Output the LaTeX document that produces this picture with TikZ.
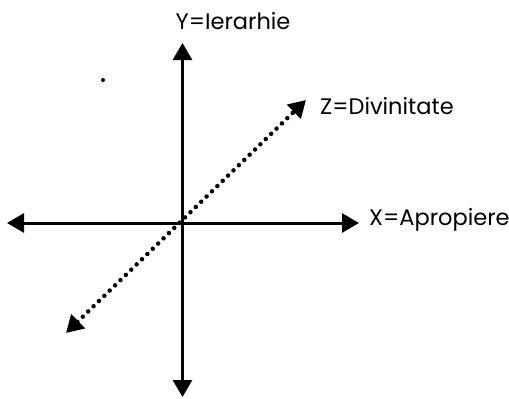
\documentclass[tikz,border=0pt]{standalone}
\usepackage{fontspec}
\setmainfont{Poppins}
\usetikzlibrary{arrows.meta}
\begin{document}
\begin{tikzpicture}[x=1pt,y=-1pt,
  axis/.style={line width=3pt,-{Triangle[length=17pt,width=19pt]}},
  dotaxis/.style={line width=4.5pt,line cap=round,dash pattern=on 0pt off 7.5pt,
    {Triangle[length=17pt,width=19pt,line cap=butt]}-{Triangle[length=17pt,width=19pt,line cap=butt]}},
  lbl/.style={inner sep=0pt,font=\fontsize{22.5}{24}\selectfont}]
\useasboundingbox (0,0) rectangle (509,399);
\coordinate (O) at (182.5,223);
\coordinate (Xl) at (7,223);
\coordinate (Xr) at (359,223);
\coordinate (Yt) at (182.5,43);
\coordinate (Yb) at (182.5,397);
\coordinate (Zt) at (306,100);
\coordinate (Zb) at (66,333);
\draw[axis] (O) -- (Xl);
\draw[axis] (O) -- (Xr);
\draw[axis] (O) -- (Yt);
\draw[axis] (O) -- (Yb);
\draw[dotaxis] (Zb) -- (Zt);
\fill (103,80) circle (2pt) coordinate (dot);
\node[lbl,anchor=west] (xl) at (369,220) {X=Apropiere};
\node[lbl] (yl) at (233,21) {Y=Ierarhie};
\node[lbl,anchor=west] (zl) at (320,106) {Z=Divinitate};
\end{tikzpicture}
\end{document}
